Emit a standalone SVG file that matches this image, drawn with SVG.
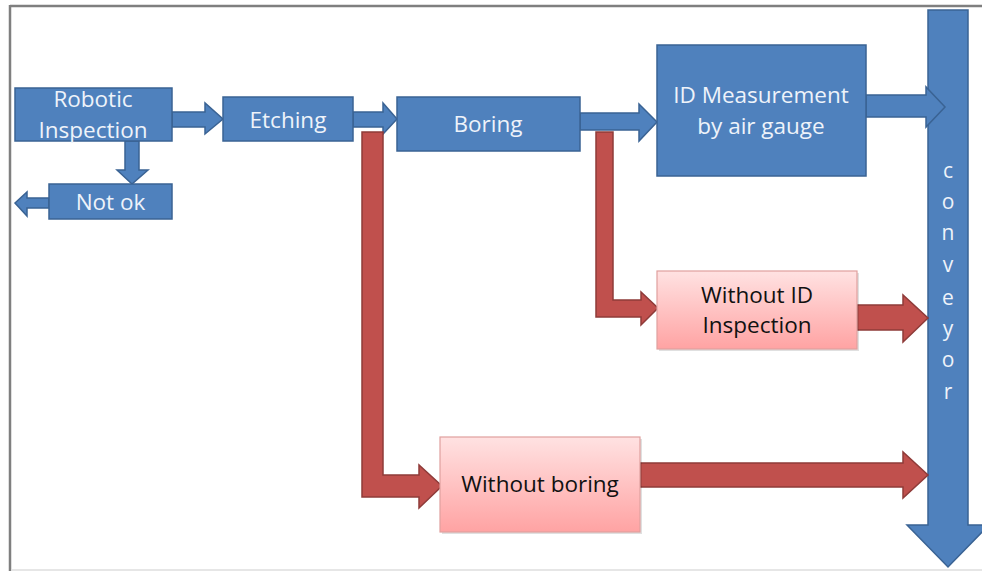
<svg xmlns="http://www.w3.org/2000/svg" width="982" height="571" viewBox="0 0 982 571">
<defs>
<linearGradient id="pink" x1="0" y1="0" x2="0" y2="1">
<stop offset="0" stop-color="#ffe2e2"/>
<stop offset="1" stop-color="#ffa3a3"/>
</linearGradient>
<style>
.blue{fill:#4f81bd;stroke:#3a6394;stroke-width:1.5}
.red{fill:#c0504d;stroke:#8f3b39;stroke-width:1.5}
.pinkbox{fill:url(#pink);stroke:#e0a09e;stroke-width:1.2}
.shadow{fill:#000;opacity:0.12}
.wt{font-family:"Open Sans","Liberation Sans",sans-serif;font-size:22.5px;fill:#eef3fa;text-anchor:middle}
.bt{font-family:"Open Sans","Liberation Sans",sans-serif;font-size:22.5px;fill:#111;text-anchor:middle}
.ct{font-family:"Open Sans","Liberation Sans",sans-serif;font-size:21px;fill:#eef3fa;text-anchor:middle}
</style>
</defs>
<rect x="0" y="0" width="982" height="571" fill="#fff"/>
<line x1="10" y1="6" x2="982" y2="6" stroke="#7f7f7f" stroke-width="2.5"/>
<line x1="10" y1="5" x2="10" y2="571" stroke="#7f7f7f" stroke-width="2.5"/>
<line x1="12" y1="570" x2="982" y2="570" stroke="#dedede" stroke-width="1.5"/>

<g id="conveyor">
<path class="blue" d="M928,10 L968,10 L968,525 L989,525 L948,567 L907,525 L928,525 Z"/>
<text class="ct" x="948" y="178">c</text>
<text class="ct" x="948" y="209">o</text>
<text class="ct" x="948" y="240">n</text>
<text class="ct" x="948" y="272">v</text>
<text class="ct" x="948" y="305">e</text>
<text class="ct" x="948" y="336">y</text>
<text class="ct" x="948" y="367">o</text>
<text class="ct" x="948" y="399">r</text>
</g>

<g id="connectors">
<path class="blue" d="M172,112 L205,112 L205,103 L223,119 L205,134 L205,127 L172,127 Z"/>
<path class="blue" d="M353,112 L383,112 L383,103 L397,119 L383,134 L383,127 L353,127 Z"/>
<path class="blue" d="M580,113 L639,113 L639,104 L657,122 L639,141 L639,130 L580,130 Z"/>
<path class="blue" d="M866,95 L926,95 L926,87 L945,107 L926,127 L926,117 L866,117 Z"/>
<path class="blue" d="M125,141 L139,141 L139,170 L148,170 L132,184 L117,170 L125,170 Z"/>
<path class="blue" d="M49,198 L27,198 L27,192 L15,203 L27,216 L27,208 L49,208 Z"/>
<path class="red" d="M362,132 L383,132 L383,475 L419,475 L419,465 L442,486 L419,508 L419,497 L362,497 Z"/>
<path class="red" d="M596,132 L613,132 L613,300 L641,300 L641,292 L658,308 L641,325 L641,317 L596,317 Z"/>
<path class="red" d="M857,305 L903,305 L903,295 L928,318 L903,342 L903,330 L857,330 Z"/>
<path class="red" d="M640,463 L903,463 L903,452 L928,475 L903,498 L903,487 L640,487 Z"/>
</g>

<g id="robotic">
<rect class="blue" x="15" y="88" width="157" height="53"/>
<text class="wt" x="93" y="107">Robotic</text>
<text class="wt" x="93" y="138">Inspection</text>
</g>
<g id="notok">
<rect class="blue" x="49" y="184" width="123" height="35"/>
<text class="wt" x="110.5" y="210">Not ok</text>
</g>
<g id="etching">
<rect class="blue" x="223" y="97" width="130" height="44"/>
<text class="wt" x="288" y="128">Etching</text>
</g>
<g id="boring">
<rect class="blue" x="397" y="97" width="183" height="54"/>
<text class="wt" x="488" y="132">Boring</text>
</g>
<g id="idmeasure">
<rect class="blue" x="657" y="45" width="209" height="131"/>
<text class="wt" x="761" y="103">ID Measurement</text>
<text class="wt" x="761" y="134">by air gauge</text>
</g>
<g id="withoutid">
<rect class="shadow" x="659" y="273" width="200" height="78"/>
<rect class="pinkbox" x="657" y="271" width="200" height="78"/>
<text class="bt" x="757" y="303">Without ID</text>
<text class="bt" x="757" y="333">Inspection</text>
</g>
<g id="withoutboring">
<rect class="shadow" x="442" y="439" width="200" height="95"/>
<rect class="pinkbox" x="440" y="437" width="200" height="95"/>
<text class="bt" x="540" y="492">Without boring</text>
</g>
</svg>
